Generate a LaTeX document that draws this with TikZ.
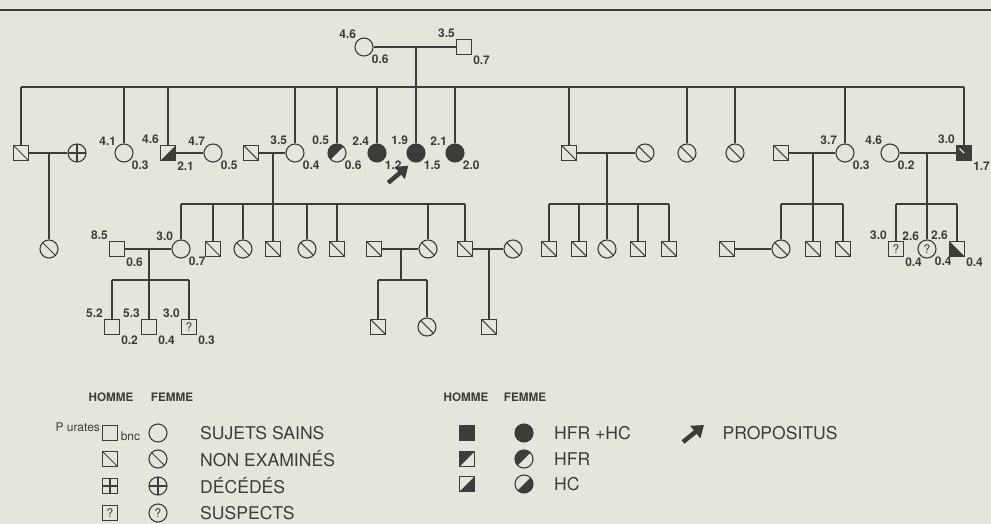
\documentclass[tikz,border=0pt]{standalone}
\usepackage{fontspec}
\setmainfont{TeX Gyre Heros}
\usepackage{tikz}
\usetikzlibrary{
  arrows.meta,
  positioning,
  calc
}
\definecolor{pedInk}{RGB}{62,60,58}
\definecolor{pedPaper}{RGB}{230,229,220}

\begin{document}
\begin{tikzpicture}[
  x=0.025cm, y=-0.025cm,
  color=pedInk,
  line width=0.9pt,
  male/.style={
    rectangle,
    draw,
    line width=0.8pt,
    minimum size=0.375cm,
    inner sep=0pt,
    font=\fontsize{8.5}{8.5}\selectfont
  },
  female/.style={
    circle,
    draw,
    line width=0.8pt,
    minimum size=0.45cm,
    inner sep=0pt,
    font=\fontsize{8.5}{8.5}\selectfont
  },
  noexam/.style={path picture={
    \draw[line width=0.75pt] (path picture bounding box.north west)
      -- (path picture bounding box.south east);}},
  dead/.style={path picture={
    \draw[line width=0.75pt] (path picture bounding box.north)
      -- (path picture bounding box.south)
      (path picture bounding box.west) -- (path picture bounding box.east);}},
  hfrhc/.style={fill=pedInk},
  hfr/.style={path picture={
    \fill (path picture bounding box.south west)
      -- (path picture bounding box.north west)
      -- (path picture bounding box.north east) -- cycle;}},
  hc/.style={path picture={
    \fill (path picture bounding box.south west)
      -- (path picture bounding box.south east)
      -- (path picture bounding box.north east) -- cycle;}},
  lowleft/.style={path picture={
    \fill (path picture bounding box.north west)
      -- (path picture bounding box.south west)
      -- (path picture bounding box.south east) -- cycle;}},
  marked/.style={fill=pedInk, path picture={
    \draw[pedPaper, line width=0.9pt]
      ($(path picture bounding box.north west)+(3,3)$)
      -- (path picture bounding box.center);}},
  lab/.style={font=\bfseries\fontsize{8.5}{9}\selectfont, inner sep=0.4pt},
  tl/.style={label={[lab, anchor=south east]north west:#1}},
  br/.style={label={[lab, anchor=north west]south east:#1}},
  keytext/.style={font=\fontsize{12.5}{13}\selectfont, inner sep=0pt, anchor=west},
  keyhead/.style={font=\bfseries\fontsize{8.3}{9}\selectfont, inner sep=0pt},
  smalltext/.style={font=\fontsize{8.5}{9}\selectfont, inner sep=0pt},
  propos/.style={line width=3.2pt, -{Triangle[length=8pt,width=11pt]}}
]

\fill[pedPaper] (0,0) rectangle (991,524);
\useasboundingbox (0,0) rectangle (991,524);
\draw[line width=1.5pt] (0,10) -- (991,10);

% generation I
\node[female, tl=4.6, br=0.6] (gmF) at (364,47) {};
\node[male, tl=3.5, br=0.7] (gmM) at (464,47) {};

% generation II
\node[male, noexam] (iiA) at (21,153) {};
\node[female, dead] (iiAw) at (77,153) {};
\node[female, tl=4.1, br=0.3] (iiC) at (124,153) {};
\node[male, hc, tl=4.6, br=2.1] (iiD) at (168,153) {};
\node[female, tl=4.7, br=0.5] (iiDw) at (213,153) {};
\node[male, noexam] (iiEh) at (251,153) {};
\node[female, tl=3.5, br=0.4] (iiF) at (295,153) {};
\node[female, hfr, tl=0.5, br=0.6] (iiG) at (337,153) {};
\node[female, hfrhc, tl=2.4, br=1.2] (iiH) at (377,153) {};
\node[female, hfrhc, tl=1.9, br=1.5] (iiI) at (416,153) {};
\node[female, hfrhc, tl=2.1, br=2.0] (iiJ) at (455,153) {};
\node[male, noexam] (iiK) at (569,153) {};
\node[female, noexam] (iiKw) at (645,153) {};
\node[female, noexam] (iiL) at (687,153) {};
\node[female, noexam] (iiM) at (735,153) {};
\node[male, noexam] (iiNh) at (781,153) {};
\node[female, tl=3.7, br=0.3] (iiN) at (845,153) {};
\node[female, tl=4.6, br=0.2] (iiOw) at (890,153) {};
\node[male, marked, tl=3.0, br=1.7] (iiO) at (964,153) {};

\draw (gmF) -- (gmM);
\coordinate (gmD) at (gmF -| iiI);
\path (gmD) ++(0,40) coordinate (sibA);
\draw (gmD) -- (sibA);
\draw (iiA |- sibA) -- (iiO |- sibA);
\foreach \n in {iiA,iiC,iiD,iiF,iiG,iiH,iiI,iiJ,iiK,iiL,iiM,iiN,iiO}
  \draw (\n) -- (\n |- sibA);
\draw[propos] ($(iiI.south west)+(-21,23)$) -- ($(iiI.south west)+(-1,6)$);

% couples of generation II
\draw (iiA) -- (iiAw);
\draw (iiD) -- (iiDw);
\draw (iiEh) -- (iiF);
\draw (iiK) -- (iiKw);
\draw (iiNh) -- (iiN);
\draw (iiOw) -- (iiO);
\coordinate (dA) at ($(iiA)!0.5!(iiAw)$);
\coordinate (dF) at ($(iiEh)!0.5!(iiF)$);
\coordinate (dK) at ($(iiK)!0.5!(iiKw)$);
\coordinate (dN) at ($(iiNh)!0.5!(iiN)$);
\coordinate (dO) at ($(iiOw)!0.5!(iiO)$);

% generation III
\node[female, noexam] (iiiA) at ($(dA)+(0,96)$) {};
\draw (dA) -- (iiiA);

\node[male, tl=8.5, br=0.6] (iiiBh) at (117,249) {};
\node[female, tl=3.0, br=0.7] (iiiB) at (181,249) {};
\node[male, noexam] (iiiC) at (213,249) {};
\node[female, noexam] (iiiD) at (243,249) {};
\node[male, noexam] (iiiE) at ($(dF)+(0,96)$) {};
\node[female, noexam] (iiiG) at (307,249) {};
\node[male, noexam] (iiiH) at (337,249) {};
\node[male, noexam] (iiiIh) at (374,249) {};
\node[female, noexam] (iiiI) at (428,249) {};
\node[male, noexam] (iiiJ) at (465,249) {};
\node[female, noexam] (iiiJw) at (513,249) {};
\path (dF) ++(0,51) coordinate (sibF);
\draw (dF) -- (sibF);
\draw (iiiB |- sibF) -- (iiiJ |- sibF);
\foreach \n in {iiiB,iiiC,iiiD,iiiE,iiiG,iiiH,iiiI,iiiJ}
  \draw (\n) -- (\n |- sibF);

\node[male, noexam] (iiiK1) at (549,249) {};
\node[male, noexam] (iiiK2) at (579,249) {};
\node[female, noexam] (iiiK3) at ($(dK)+(0,96)$) {};
\node[male, noexam] (iiiK4) at (638,249) {};
\node[male, noexam] (iiiK5) at (669,249) {};
\path (dK) ++(0,51) coordinate (sibK);
\draw (dK) -- (sibK);
\draw (iiiK1 |- sibK) -- (iiiK5 |- sibK);
\foreach \n in {iiiK1,iiiK2,iiiK3,iiiK4,iiiK5}
  \draw (\n) -- (\n |- sibK);

\node[male, noexam] (iiiN1h) at (727,249) {};
\node[female, noexam] (iiiN1) at (781,249) {};
\node[male, noexam] (iiiN2) at ($(dN)+(0,96)$) {};
\node[male, noexam] (iiiN3) at (843,249) {};
\path (dN) ++(0,51) coordinate (sibN);
\draw (dN) -- (sibN);
\draw (iiiN1 |- sibN) -- (iiiN3 |- sibN);
\foreach \n in {iiiN1,iiiN2,iiiN3}
  \draw (\n) -- (\n |- sibN);
\draw (iiiN1h) -- (iiiN1);

\node[male, tl=3.0, br=0.4] (iiiO1) at (896,249) {?};
\node[female, tl=2.6, br=0.4] (iiiO2) at ($(dO)+(0,96)$) {?};
\node[male, lowleft, tl=2.6, br=0.4] (iiiO3) at (957,249) {};
\path (dO) ++(0,51) coordinate (sibO);
\draw (dO) -- (sibO);
\draw (iiiO1 |- sibO) -- (iiiO3 |- sibO);
\foreach \n in {iiiO1,iiiO2,iiiO3}
  \draw (\n) -- (\n |- sibO);

% couples of generation III
\draw (iiiBh) -- (iiiB);
\draw (iiiIh) -- (iiiI);
\draw (iiiJ) -- (iiiJw);
\coordinate (dB) at ($(iiiBh)!0.5!(iiiB)$);
\coordinate (dI) at ($(iiiIh)!0.5!(iiiI)$);
\coordinate (dJ) at ($(iiiJ)!0.5!(iiiJw)$);

% generation IV
\node[male, tl=5.2, br=0.2] (ivA) at (112,327) {};
\node[male, tl=5.3, br=0.4] (ivB) at ($(dB)+(0,78)$) {};
\node[male, tl=3.0, br=0.3] (ivC) at (189,327) {?};
\path (dB) ++(0,31) coordinate (sibB);
\draw (dB) -- (sibB);
\draw (ivA |- sibB) -- (ivC |- sibB);
\foreach \n in {ivA,ivB,ivC}
  \draw (\n) -- (\n |- sibB);

\node[male, noexam] (ivD) at (378,327) {};
\node[female, noexam] (ivE) at (427,327) {};
\path (dI) ++(0,31) coordinate (sibI);
\draw (dI) -- (sibI);
\draw (ivD |- sibI) -- (ivE |- sibI);
\foreach \n in {ivD,ivE}
  \draw (\n) -- (\n |- sibI);

\node[male, noexam] (ivF) at ($(dJ)+(0,78)$) {};
\draw (dJ) -- (ivF);

% key, left
\node[keyhead] (khM1) at (111,397) {HOMME};
\node[keyhead] (khF1) at (172,397) {FEMME};
\node[male] (kM1) at (110,433) {};
\node[female] (kF1) at (158,433) {};
\node[keytext, right=0.8cm of kF1] (kT1) {SUJETS SAINS};
\node[smalltext, left=1pt of kM1, yshift=4pt] (kPur) {P urates};
\node[smalltext, right=1.5pt of kM1, yshift=-2.5pt] (kBnc) {bnc};
\node[male, noexam] (kM2) at (110,459) {};
\node[female, noexam] (kF2) at (158,459) {};
\node[keytext, right=0.8cm of kF2] (kT2) {NON EXAMINÉS};
\node[male, dead] (kM3) at (110,486) {};
\node[female, dead] (kF3) at (158,486) {};
\node[keytext, right=0.8cm of kF3] (kT3) {DÉCÉDÉS};
\node[male] (kM4) at (110,513) {?};
\node[female] (kF4) at (158,513) {?};
\node[keytext, right=0.8cm of kF4] (kT4) {SUSPECTS};

% key, right
\node[keyhead] (khM2) at (466,397) {HOMME};
\node[keyhead] (khF2) at (525,397) {FEMME};
\node[male, hfrhc] (kM5) at (467,433) {};
\node[female, hfrhc] (kF5) at (524,433) {};
\node[keytext, right=0.5cm of kF5] (kT5) {HFR +HC};
\node[male, hfr] (kM6) at (467,459) {};
\node[female, hfr] (kF6) at (524,459) {};
\node[keytext, right=0.5cm of kF6] (kT6) {HFR};
\node[male, hc] (kM7) at (467,484) {};
\node[female, hc] (kF7) at (524,484) {};
\node[keytext, right=0.5cm of kF7] (kT7) {HC};
\coordinate (kArrT) at (683,442);
\coordinate (kArrH) at (704,425);
\draw[propos] (kArrT) -- (kArrH);
\node[keytext] (kProp) at (722,433) {PROPOSITUS};

\end{tikzpicture}
\end{document}
